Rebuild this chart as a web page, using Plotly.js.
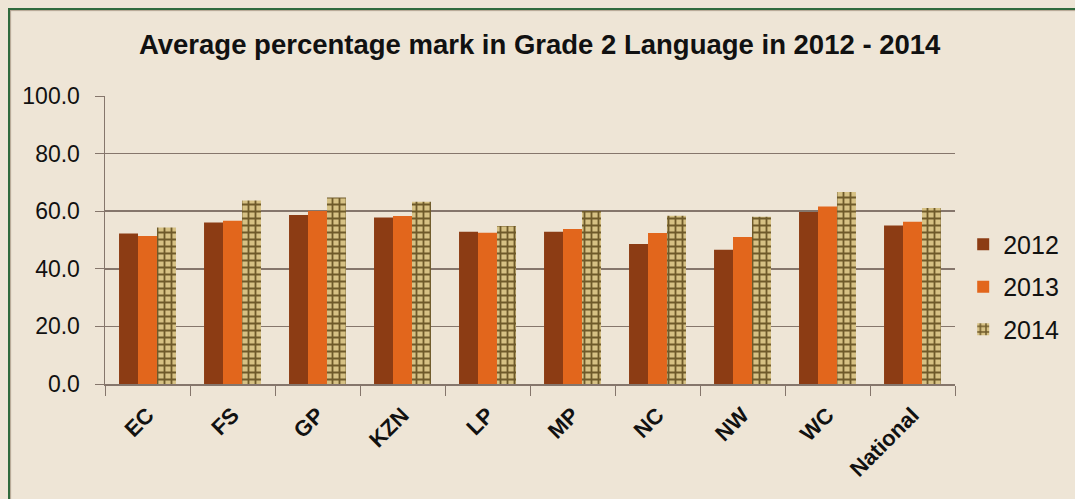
<!DOCTYPE html>
<html>
<head>
<meta charset="utf-8">
<script src="https://cdn.plot.ly/plotly-3.0.1.min.js"></script>
<style>
  html, body { margin:0; padding:0; background:#EEE5D6; }
  #wrap { position:relative; width:1075px; height:499px; overflow:hidden; background:#EEE5D6; }
  #chart { position:absolute; left:0; top:0; width:1075px; height:499px; }
  #frame { position:absolute; left:8px; top:8px; width:1100px; height:520px;
           border-top:2px solid #2F6A3C; border-left:2px solid #2F6A3C;
           box-shadow: inset 1px 1px 1px rgba(120,100,80,0.5); pointer-events:none; }
</style>
</head>
<body>
<div id="wrap">
  <div id="chart"></div>
  <div id="frame"></div>
</div>
<script>
const categories = ["EC", "FS", "GP", "KZN", "LP", "MP", "NC", "NW", "WC", "National"];
const years = ["2012", "2013", "2014"];
const values2012 = [52.3, 56.1, 58.7, 57.8, 52.9, 52.9, 48.6, 46.6, 59.7, 55.0];
const values2013 = [51.4, 56.7, 60.1, 58.3, 52.5, 53.8, 52.4, 51.0, 61.6, 56.3];
const values2014 = [54.3, 63.7, 64.8, 63.3, 54.9, 60.1, 58.4, 58.1, 66.7, 61.1];
const yTicks = [0, 20, 40, 60, 80, 100];

const font = "Arial, 'Liberation Sans', sans-serif";

const traces = [
  { type:'bar', name:years[0], legendgroup:'a', x:categories, y:values2012,
    marker:{ color:'#8C3C14', line:{width:0} } },
  { type:'bar', name:years[1], legendgroup:'b', x:categories, y:values2013,
    marker:{ color:'#E2661C', line:{width:0} } },
  { type:'bar', name:years[2], legendgroup:'c', x:categories, y:values2014,
    marker:{ color:'#C9B273', line:{width:0},
             pattern:{ shape:'+', fgcolor:'#6E5A2A', bgcolor:'#D6C184', size:7, solidity:0.45 } } }
];

const layout = {
  width:1075, height:499,
  paper_bgcolor:'rgba(0,0,0,0)', plot_bgcolor:'rgba(0,0,0,0)',
  margin:{ l:105, r:120, t:96, b:115, autoexpand:false },
  barmode:'group', bargap:0.33, bargroupgap:0,
  title:{ text:'<b>Average percentage mark in Grade 2 Language in 2012 - 2014</b>',
          x:0.502, xref:'container', y:0.912, yref:'container', yanchor:'middle',
          font:{ family:"'Liberation Sans Narrow', 'Arial Narrow', Arial, 'Liberation Sans', sans-serif", size:27.5, color:'#111' } },
  xaxis:{ type:'category', tickangle:-45, showline:true, linecolor:'#85766C', linewidth:1.5,
          ticks:'outside', ticklen:10, tickcolor:'#85766C', tickson:'boundaries',
          showgrid:false, ticklabelstandoff:8,
          tickfont:{ family:font, size:22, color:'#111', weight:'bold' } },
  yaxis:{ range:[0,100], tickvals:yTicks, ticktext:yTicks.map(v=>v.toFixed(1)),
          showgrid:true, gridcolor:'#85766C', gridwidth:1.6,
          showline:true, linecolor:'#85766C', linewidth:1.5,
          ticks:'outside', ticklen:9, tickcolor:'#85766C', zeroline:false,
          ticklabelstandoff:10,
          tickfont:{ family:font, size:23, color:'#111' } },
  legend:{ xref:'container', x:0.896, xanchor:'left', yref:'container', y:0.425, yanchor:'middle',
           bgcolor:'rgba(0,0,0,0)',
           traceorder:'grouped', tracegroupgap:7, itemwidth:30,
           font:{ family:font, size:25, color:'#111' } },
  showlegend:true
};

Plotly.newPlot('chart', traces, layout, { staticPlot:true, displayModeBar:false });
</script>
</body>
</html>
